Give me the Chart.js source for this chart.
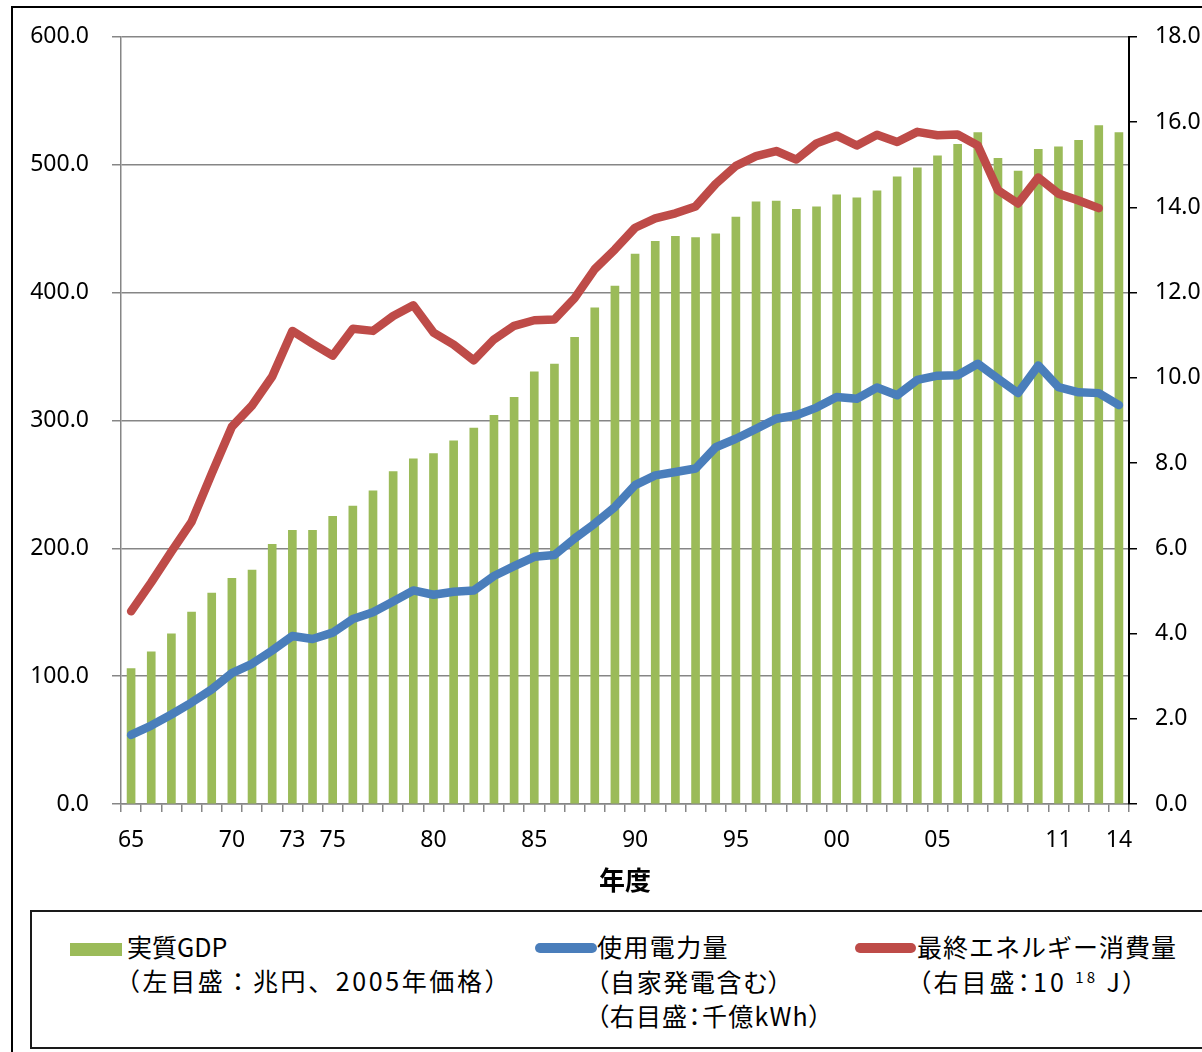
<!DOCTYPE html>
<html><head><meta charset="utf-8">
<script src="https://cdn.jsdelivr.net/npm/chart.js@4.4.1/dist/chart.umd.min.js"></script>
<style>
html,body{margin:0;padding:0;background:#fff;overflow:hidden;width:1202px;height:1052px;}
#wrap{position:relative;width:1202px;height:1052px;overflow:hidden;}
canvas{position:absolute;left:0;top:0;}
.frame{position:absolute;left:11px;top:6px;width:1300px;height:1200px;border:2px solid #000;box-sizing:border-box;}
.legbox{position:absolute;left:30px;top:910px;width:1300px;height:139px;border:2px solid #1a1a1a;box-sizing:border-box;background:#fff;}
.t{position:absolute;font-family:'Noto Sans CJK JP',sans-serif;font-size:25px;line-height:25px;color:#000;white-space:nowrap;}
.p{font-feature-settings:"palt";}
.sym{position:absolute;}
sup{font-size:15px;vertical-align:9px;line-height:0;}
</style></head>
<body>
<div id="wrap">
<canvas id="c" width="1202" height="1052"></canvas>
<div class="frame"></div>
<div class="legbox"></div>
<div class="sym" style="left:70px;top:943px;width:52px;height:13px;background:#9BBB59;"></div>
<div class="t" style="left:127px;top:934px;">実質GDP</div>
<div class="t" style="left:115px;top:968px;letter-spacing:2.6px;">（左目盛：兆円、2005年価格）</div>
<div class="sym" style="left:535px;top:943px;width:62px;height:10px;border-radius:5px;background:#4A7EBB;"></div>
<div class="t" style="left:597px;top:934px;letter-spacing:1.4px;">使用電力量</div>
<div class="t p" style="left:596px;top:969px;letter-spacing:1.6px;">（自家発電含む）</div>
<div class="t p" style="left:596px;top:1003px;letter-spacing:1.2px;">（右目盛：千億kWh）</div>
<div class="sym" style="left:855px;top:943px;width:61px;height:10px;border-radius:5px;background:#BE4B48;"></div>
<div class="t" style="left:917px;top:934px;letter-spacing:1px;">最終エネルギー消費量</div>
<div class="t p" style="left:918px;top:969px;letter-spacing:3px;">（右目盛：10 <sup>18</sup> J）</div>
</div>
<script>
const years = [1965,1966,1967,1968,1969,1970,1971,1972,1973,1974,
               1975,1976,1977,1978,1979,1980,1981,1982,1983,1984,
               1985,1986,1987,1988,1989,1990,1991,1992,1993,1994,
               1995,1996,1997,1998,1999,2000,2001,2002,2003,2004,
               2005,2006,2007,2008,2009,2010,2011,2012,2013,2014];
const tickLabels = ['65','70','73','75','80','85','90','95','00','05','11','14'];
// 実質GDP (left axis, 兆円, 2005年価格)
const gdp = [106,119,133,150,165,176.5,183,203,214,214,
             225,233,245,260,270,274,284,294,304,318,
             338,344,365,388,405,430,440,444,443,446,
             459,471,471.5,465,467,476.5,474,479.5,490.5,497.5,
             507,516,525,505,495,512,514,519,530.5,525];
// 使用電力量 (right axis, 千億kWh)
const power = [1.62,1.84,2.1,2.38,2.69,3.07,3.29,3.6,3.94,3.87,
               4.02,4.34,4.5,4.75,5.01,4.91,4.98,5.01,5.35,5.58,
               5.8,5.84,6.23,6.58,6.97,7.48,7.71,7.79,7.87,8.37,
               8.57,8.8,9.04,9.12,9.3,9.55,9.51,9.77,9.59,9.95,
               10.05,10.06,10.33,9.98,9.64,10.29,9.78,9.66,9.64,9.36];
// 最終エネルギー消費量 (right axis, 10^18 J)
const energy = [4.52,5.2,5.92,6.62,7.75,8.85,9.35,10.03,11.1,10.8,
                10.52,11.15,11.1,11.45,11.7,11.06,10.78,10.41,10.9,11.22,
                11.35,11.37,11.87,12.55,13.01,13.52,13.74,13.86,14.02,14.55,
                14.97,15.2,15.32,15.12,15.5,15.68,15.45,15.7,15.53,15.77,
                15.69,15.71,15.45,14.4,14.09,14.7,14.32,14.16,13.98,null];

const tickFont = {family:"'Noto Sans', sans-serif", size:23};
const gray = '#868686';

new Chart(document.getElementById('c'), {
  type:'bar',
  data:{
    labels: years.map(String),
    datasets:[
      {type:'line', label:'最終エネルギー消費量', data:energy, yAxisID:'y1',
       borderColor:'#BE4B48', backgroundColor:'#BE4B48', borderWidth:8.5, pointRadius:0,
       tension:0, borderCapStyle:'round', borderJoinStyle:'round', order:1, spanGaps:false},
      {type:'line', label:'使用電力量', data:power, yAxisID:'y1',
       borderColor:'#4A7EBB', backgroundColor:'#4A7EBB', borderWidth:8.5, pointRadius:0,
       tension:0, borderCapStyle:'round', borderJoinStyle:'round', order:2},
      {type:'bar', label:'実質GDP', data:gdp, yAxisID:'y',
       backgroundColor:'#9BBB59', barThickness:8, order:3}
    ]
  },
  options:{
    responsive:false, animation:false, devicePixelRatio:1,
    layout:{padding:{left:0,right:0,top:36,bottom:148}},
    plugins:{legend:{display:false}, tooltip:{enabled:false}},
    scales:{
      x:{
        offset:true,
        grid:{offset:true, drawOnChartArea:false, drawTicks:true, tickLength:8, color:gray, lineWidth:1.5},
        border:{display:true, color:gray, width:1.5},
        ticks:{autoSkip:false, maxRotation:0, minRotation:0, padding:15, color:'#000', font:tickFont,
          callback:(v,i)=>{const s=String(years[i]).slice(2); return tickLabels.includes(s)?s:'';}},
        title:{display:true, text:'年度', color:'#000',
          font:{family:"'Noto Sans CJK JP', sans-serif", size:26, weight:'bold'}, padding:{top:0,bottom:8}},
        afterFit:(s)=>{s.height=100;}
      },
      y:{
        position:'left', min:0, max:600,
        ticks:{stepSize:100, padding:23, color:'#000', font:tickFont, callback:v=>Number(v).toFixed(1)},
        grid:{color:gray, lineWidth:1.5, tickLength:9},
        border:{color:gray, width:1.5},
        afterFit:(s)=>{s.width=121;}
      },
      y1:{
        position:'right', min:0, max:18,
        ticks:{stepSize:2, padding:18, color:'#000', font:tickFont, callback:v=>Number(v).toFixed(1)},
        grid:{drawOnChartArea:false, color:'#000', lineWidth:1.5, tickLength:8},
        border:{color:'#000', width:2},
        afterFit:(s)=>{s.width=73;}
      }
    }
  }
});
</script>
</body></html>
